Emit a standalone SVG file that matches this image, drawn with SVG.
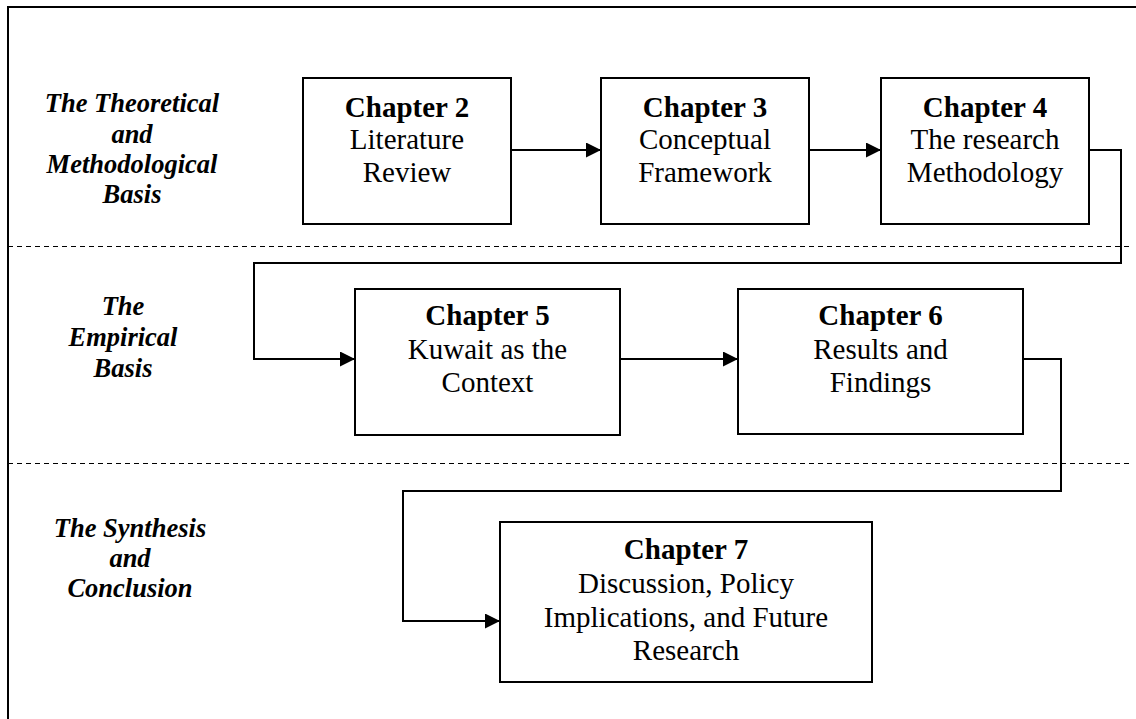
<svg xmlns="http://www.w3.org/2000/svg" width="1136" height="719" viewBox="0 0 1136 719">
  <style>
    .box { fill: #fff; stroke: #000; stroke-width: 2; }
    .frame { fill: none; stroke: #000; stroke-width: 2; }
    .divider { fill: none; stroke: #000; stroke-width: 1; stroke-dasharray: 5 4; }
    .link { fill: none; stroke: #000; stroke-width: 2; marker-end: url(#arrow); }
    .title { font-family: "Liberation Serif", "Times New Roman", serif; font-size: 29px; font-weight: bold; text-anchor: middle; fill: #000; }
    .body { font-family: "Liberation Serif", "Times New Roman", serif; font-size: 29px; text-anchor: middle; fill: #000; }
    .band { font-family: "Liberation Serif", "Times New Roman", serif; font-size: 26.5px; font-weight: bold; font-style: italic; text-anchor: middle; fill: #000; }
  </style>
  <defs>
    <marker id="arrow" markerWidth="15" markerHeight="15" viewBox="0 0 15 15" refX="15" refY="7.5" orient="auto" markerUnits="userSpaceOnUse">
      <path d="M0,0 L15,7.5 L0,15 Z" fill="#000"/>
    </marker>
  </defs>

  <rect width="1136" height="719" fill="#fff"/>

  <!-- outer frame: top and left edges only -->
  <path class="frame" d="M8,719 L8,7 L1136,7"/>

  <!-- band dividers -->
  <line class="divider" x1="8" y1="246.5" x2="1132" y2="246.5"/>
  <line class="divider" x1="8" y1="463.5" x2="1132" y2="463.5"/>

  <!-- band labels -->
  <g id="band-theoretical">
    <text class="band" x="132" y="112">The Theoretical</text>
    <text class="band" x="132" y="143">and</text>
    <text class="band" x="132" y="173">Methodological</text>
    <text class="band" x="132" y="203">Basis</text>
  </g>
  <g id="band-empirical">
    <text class="band" x="123" y="315">The</text>
    <text class="band" x="123" y="346">Empirical</text>
    <text class="band" x="123" y="377">Basis</text>
  </g>
  <g id="band-synthesis">
    <text class="band" x="130" y="537">The Synthesis</text>
    <text class="band" x="130" y="567">and</text>
    <text class="band" x="130" y="597">Conclusion</text>
  </g>

  <!-- connectors -->
  <g id="connectors">
    <path class="link" d="M511,150 L601,150"/>
    <path class="link" d="M809,150 L881,150"/>
    <path class="link" d="M1089,150 L1121,150 L1121,263 L254,263 L254,359 L355,359"/>
    <path class="link" d="M620,359 L738,359"/>
    <path class="link" d="M1023,359 L1061,359 L1061,491 L403,491 L403,621 L500,621"/>
  </g>

  <!-- chapter nodes -->
  <g id="chapter2">
    <rect class="box" x="303" y="78" width="208" height="146"/>
    <text class="title" x="407" y="117">Chapter 2</text>
    <text class="body" x="407" y="149">Literature</text>
    <text class="body" x="407" y="182">Review</text>
  </g>
  <g id="chapter3">
    <rect class="box" x="601" y="78" width="208" height="146"/>
    <text class="title" x="705" y="117">Chapter 3</text>
    <text class="body" x="705" y="149">Conceptual</text>
    <text class="body" x="705" y="182">Framework</text>
  </g>
  <g id="chapter4">
    <rect class="box" x="881" y="78" width="208" height="146"/>
    <text class="title" x="985" y="117">Chapter 4</text>
    <text class="body" x="985" y="149">The research</text>
    <text class="body" x="985" y="182">Methodology</text>
  </g>
  <g id="chapter5">
    <rect class="box" x="355" y="289" width="265" height="146"/>
    <text class="title" x="487.5" y="325">Chapter 5</text>
    <text class="body" x="487.5" y="358.5">Kuwait as the</text>
    <text class="body" x="487.5" y="392">Context</text>
  </g>
  <g id="chapter6">
    <rect class="box" x="738" y="289" width="285" height="145"/>
    <text class="title" x="880.5" y="325">Chapter 6</text>
    <text class="body" x="880.5" y="358.5">Results and</text>
    <text class="body" x="880.5" y="392">Findings</text>
  </g>
  <g id="chapter7">
    <rect class="box" x="500" y="522" width="372" height="160"/>
    <text class="title" x="686" y="559">Chapter 7</text>
    <text class="body" x="686" y="593">Discussion, Policy</text>
    <text class="body" x="686" y="626.5">Implications, and Future</text>
    <text class="body" x="686" y="659.5">Research</text>
  </g>
</svg>
